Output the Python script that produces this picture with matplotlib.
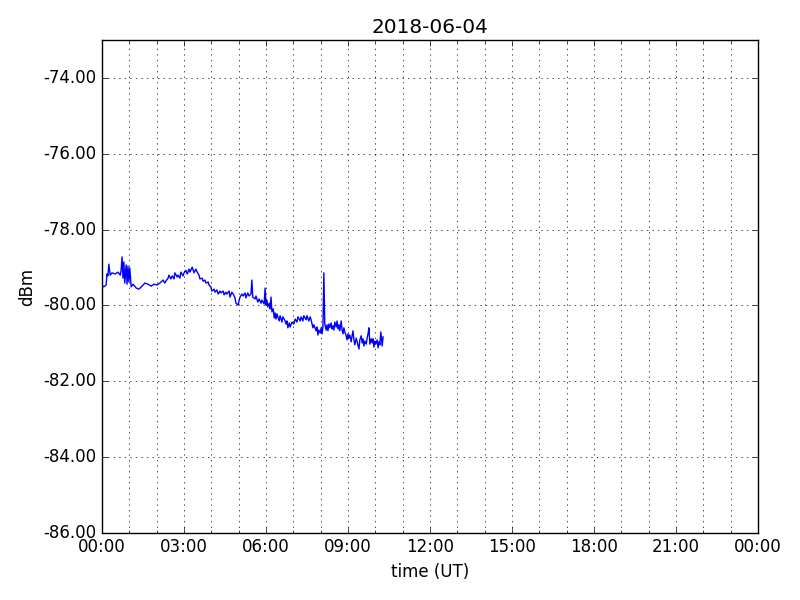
#!/usr/bin/env python3
import datetime
import matplotlib
matplotlib.use('Agg')
from matplotlib import pyplot as plt
import matplotlib.dates as mdates
from matplotlib.ticker import MultipleLocator, FormatStrFormatter

day = datetime.datetime(2018, 6, 4)

# minutes after 00:00 UT
minutes = [0, 4, 9, 11, 13, 15, 18, 22, 29, 35, 40, 42, 44, 46, 48, 50, 53, 55, 57, 59,
	61, 64, 68, 75, 81, 88, 94, 101, 108, 114, 121, 127,
	134, 138, 140, 145, 147, 151, 154, 158, 160, 165, 167, 171, 173, 178, 180, 184, 187,
	191, 193, 198, 200, 202, 206, 209, 213, 215, 220, 222, 226, 228, 233, 235, 239, 241,
	246, 248, 252, 255, 259, 261, 266, 268, 272, 274, 279, 281, 285, 288, 292, 294, 299,
	301, 303, 307, 310, 314, 316, 320, 323, 327, 329, 331, 336, 338, 342, 345, 349, 351,
	356, 358,
	360, 362, 364, 367, 369, 371, 373, 376, 378, 380, 382, 384, 389, 391, 395, 397, 402,
	404, 406, 408, 411, 413, 417, 421, 424, 428, 430, 435, 437, 441, 443, 448, 450, 454,
	457, 459, 461, 463, 465, 470, 472, 474, 476, 479, 481, 483, 485, 487, 489, 492, 494,
	496, 498, 500, 503, 505, 507, 509, 511, 514, 516, 518, 520, 522, 525, 527, 529, 531,
	533, 536, 538, 540, 542, 544, 547, 549, 551, 553, 555, 558, 560, 562, 564, 566, 569,
	571, 573, 575, 577, 580, 582, 584, 586, 588, 591, 593, 595, 597, 599, 601, 604, 606,
	608, 610, 612, 615, 617]

dbm = [-79.46, -79.51, -79.46, -79.17, -79.22, -78.91, -79.20, -79.14, -79.17, -79.12,
	-79.20, -79.07, -78.72, -79.28, -78.85, -79.41, -78.93, -79.44, -78.96, -79.38,
	-79.01, -79.51, -79.44, -79.54, -79.57, -79.49, -79.41, -79.44, -79.49, -79.44,
	-79.46, -79.41,
	-79.33, -79.41, -79.36, -79.28, -79.20, -79.30, -79.22, -79.30, -79.14, -79.25,
	-79.20, -79.28, -79.12, -79.22, -79.14, -79.07, -79.17, -79.04, -79.12, -78.99,
	-79.07, -79.14, -79.04, -79.12, -79.20, -79.30, -79.28, -79.36, -79.33, -79.41,
	-79.38, -79.46, -79.51, -79.62, -79.57, -79.65, -79.59, -79.70, -79.62, -79.67,
	-79.62, -79.72, -79.65, -79.70, -79.62, -79.78, -79.65, -79.70, -79.80, -79.94,
	-79.99, -79.86, -79.78, -79.70, -79.75, -79.67, -79.80, -79.67, -79.75, -79.70,
	-79.33, -79.78, -79.83, -79.75, -79.91, -79.83, -79.94, -79.86, -79.96, -79.54,
	-79.99, -79.86, -80.04, -79.94, -80.09, -79.78, -80.17, -80.09, -80.33, -80.20,
	-80.36, -80.22, -80.41, -80.27, -80.44, -80.30, -80.41, -80.49, -80.41, -80.59,
	-80.46, -80.57, -80.44, -80.49, -80.36, -80.44, -80.30, -80.41, -80.30, -80.41,
	-80.27, -80.38, -80.27, -80.41, -80.30, -80.38, -80.49, -80.59, -80.51, -80.67,
	-80.57, -80.78, -80.65, -80.73, -80.59, -80.75, -80.57, -79.14, -80.49, -80.65,
	-80.51, -80.67, -80.49, -80.59, -80.46, -80.62, -80.54, -80.65, -80.44, -80.57,
	-80.41, -80.62, -80.51, -80.67, -80.41, -80.65, -80.75, -80.59, -80.70, -80.80,
	-80.91, -80.75, -80.86, -80.78, -80.96, -80.80, -80.67, -80.91, -81.04, -80.86,
	-80.96, -81.07, -81.15, -80.91, -80.80, -80.99, -80.88, -81.07, -80.94, -81.02,
	-80.86, -80.75, -80.59, -81.02, -80.88, -80.99, -80.88, -81.10, -80.94, -81.02,
	-80.91, -81.12, -80.96, -81.04, -80.70, -81.07, -80.83]

def plotDay():
	plt.style.use('classic')
	times = [day + datetime.timedelta(minutes=m) for m in minutes]

	fig, ax = plt.subplots(figsize=(8, 6), dpi=100)
	fig.subplots_adjust(left=0.1275, right=0.9475, top=0.933, bottom=0.112)
	ax.plot(times, dbm, color='b', linewidth=1.0)

	ax.set_xlim(day, day + datetime.timedelta(days=1))
	ax.set_ylim(-86, -73)
	ax.xaxis.set_major_locator(mdates.HourLocator(byhour=range(0, 24, 3)))
	ax.xaxis.set_minor_locator(mdates.HourLocator())
	ax.xaxis.set_major_formatter(mdates.DateFormatter('%H:%M'))
	ax.yaxis.set_major_locator(MultipleLocator(2))
	ax.yaxis.set_major_formatter(FormatStrFormatter('%.2f'))
	ax.grid(True, which='both')

	ax.set_title('2018-06-04')
	ax.set_xlabel('time (UT)')
	ax.set_ylabel('dBm')

	fig.savefig('out.png', format='png', dpi=100)

def main():
	plotDay()

if __name__ == '__main__':
	main()
